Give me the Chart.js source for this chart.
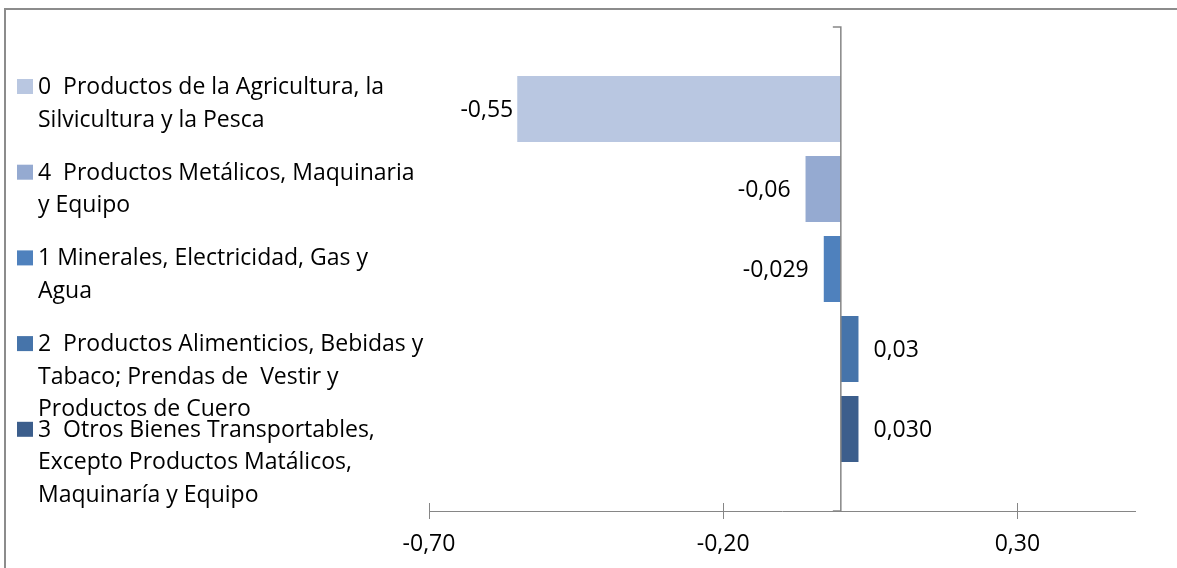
<!DOCTYPE html>
<html>
<head>
<meta charset="utf-8">
<script src="https://cdn.jsdelivr.net/npm/chart.js@4.4.1/dist/chart.umd.min.js"></script>
<style>
  html, body { margin: 0; padding: 0; background: #fff; overflow: hidden; }
  #wrap { position: relative; width: 1177px; height: 568px; }
  #frame { position: absolute; left: 4px; top: 8px; width: 1300px; height: 700px;
           border-left: 2px solid #8c8c8c; border-top: 2px solid #8c8c8c; }
  canvas { position: absolute; left: 0; top: 0; }
</style>
</head>
<body>
<div id="wrap">
  <div id="frame"></div>
  <canvas id="chart" width="1177" height="568"></canvas>
</div>
<script>
// legend text, one array of lines per series (top bar first)
const seriesNames = [
  ["0  Productos de la Agricultura, la", "Silvicultura y la Pesca"],
  ["4  Productos Metálicos, Maquinaria", "y Equipo"],
  ["1 Minerales, Electricidad, Gas y", "Agua"],
  ["2  Productos Alimenticios, Bebidas y", "Tabaco; Prendas de  Vestir y", "Productos de Cuero"],
  ["3  Otros Bienes Transportables,", "Excepto Productos Matálicos,", "Maquinaría y Equipo"]
];
const seriesValues = [-0.55, -0.06, -0.029, 0.03, 0.030];
const valueDecimals = [2, 2, 3, 2, 3];
const xTicks = [-0.70, -0.20, 0.30];

const seriesColors = ["#b9c7e1", "#95aad1", "#4f81bd", "#4674aa", "#3c5e8c"];
const FONT = "'Open Sans', Lato, sans-serif";
const FONT_SIZE = 23;
const AXIS_GRAY = "#868686";

const fmt = (v, d) => v.toFixed(d).replace(".", ",");

const decorPlugin = {
  id: "decor",
  afterDatasetsDraw(chart) {
    const { ctx, chartArea, scales } = chart;
    const x0 = scales.x.getPixelForValue(0);
    ctx.save();
    ctx.strokeStyle = AXIS_GRAY;
    ctx.lineWidth = 1.5;
    // vertical axis at zero with end ticks
    ctx.beginPath();
    ctx.moveTo(x0 - 8, chartArea.top);
    ctx.lineTo(x0, chartArea.top);
    ctx.lineTo(x0, chartArea.bottom);
    ctx.lineTo(x0 - 8, chartArea.bottom);
    ctx.stroke();
    // crossing tick marks on x axis
    ctx.lineWidth = 1;
    xTicks.forEach((t) => {
      const px = Math.round(scales.x.getPixelForValue(t)) + 0.5;
      ctx.beginPath();
      ctx.moveTo(px, chartArea.bottom - 8);
      ctx.lineTo(px, chartArea.bottom + 8);
      ctx.stroke();
    });
    // value labels
    ctx.fillStyle = "#000";
    ctx.font = FONT_SIZE + "px " + FONT;
    ctx.textBaseline = "middle";
    chart.data.datasets.forEach((ds, i) => {
      const el = chart.getDatasetMeta(i).data[0];
      const v = ds.data[0];
      const gap = ds.labelGap;
      if (v < 0) {
        ctx.textAlign = "right";
        ctx.fillText(fmt(v, valueDecimals[i]), el.x - gap, el.y + 1);
      } else {
        ctx.textAlign = "left";
        ctx.fillText(fmt(v, valueDecimals[i]), el.x + gap, el.y + 1);
      }
    });
    ctx.restore();
  },
  afterDraw(chart) {
    // legend on the left
    const { ctx } = chart;
    ctx.save();
    ctx.font = FONT_SIZE + "px " + FONT;
    ctx.textBaseline = "alphabetic";
    ctx.textAlign = "left";
    seriesNames.forEach((lines, i) => {
      const base = 94 + i * 85.7;
      ctx.fillStyle = seriesColors[i];
      ctx.fillRect(17, base - 15, 16, 15);
      ctx.fillStyle = "#000";
      lines.forEach((line, j) => ctx.fillText(line, 38, base + j * 32.5));
    });
    ctx.restore();
  }
};

const datasets = seriesNames.map((name, i) => ({
  label: name.join(" "),
  data: [seriesValues[i]],
  backgroundColor: seriesColors[i],
  borderWidth: 0,
  categoryPercentage: 0.8264,
  barPercentage: 0.825,
  labelGap: i === 0 ? 4 : 15
}));

new Chart(document.getElementById("chart"), {
  type: "bar",
  data: { labels: [""], datasets: datasets },
  options: {
    indexAxis: "y",
    responsive: false,
    animation: false,
    events: [],
    layout: { padding: { left: 429, right: 42, top: 27, bottom: 0 } },
    plugins: { legend: { display: false }, tooltip: { enabled: false } },
    scales: {
      y: { type: "category", display: false },
      x: {
        type: "linear",
        min: -0.7,
        max: 0.5,
        afterBuildTicks: (scale) => { scale.ticks = xTicks.map((v) => ({ value: v })); },
        afterFit: (scale) => { scale.height = 57; },
        grid: { display: false, drawTicks: false },
        border: { display: true, color: AXIS_GRAY, width: 1 },
        ticks: {
          padding: 20,
          color: "#000",
          font: { family: FONT, size: FONT_SIZE },
          maxRotation: 0,
          callback: (v) => fmt(v, 2)
        }
      }
    }
  },
  plugins: [decorPlugin]
});
</script>
</body>
</html>
